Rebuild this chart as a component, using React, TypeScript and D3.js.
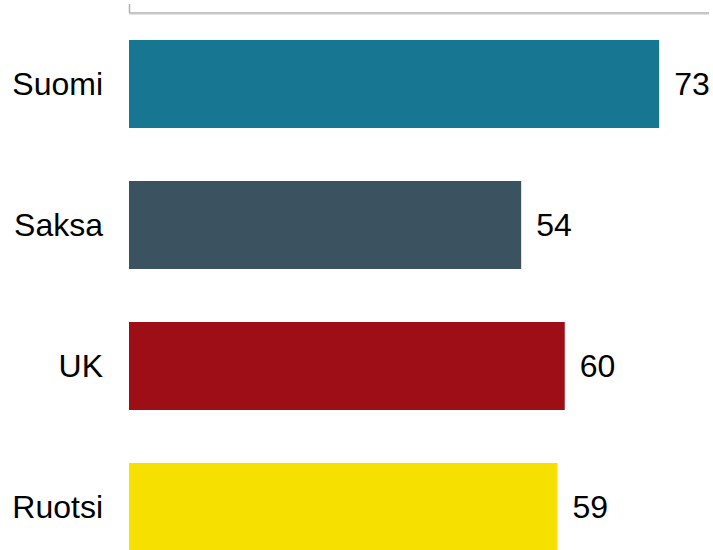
import React from "react";
import * as d3 from "d3";

const categories = ["Suomi", "Saksa", "UK", "Ruotsi"];
const values = [73, 54, 60, 59];
const colors = ["#177691", "#3b5261", "#9d0e16", "#f5e000"];
const xDomain = [0, 80];

const W = 713;
const H = 550;

export default function App() {
  const x = d3.scaleLinear().domain(xDomain).range([129, 710]);
  const y = d3
    .scaleBand<string>()
    .domain(categories)
    .range([13.5, 13.5 + 4 * 141])
    .paddingInner(0.376)
    .paddingOuter(0.188);
  const font = "Liberation Sans, Arial, sans-serif";
  return (
    <svg
      width={W}
      height={H}
      style={{ position: "absolute", left: 0, top: 0, background: "#fff" }}
    >
      <g>
        <line x1={x(0) + 0.5} x2={x(0) + 0.5} y1={4} y2={13} stroke="#b0b0b0" strokeWidth={1.5} />
        <line x1={x(0)} x2={709} y1={13} y2={13} stroke="#b0b0b0" strokeWidth={1.5} />
        <line x1={x(0)} x2={709} y1={14.3} y2={14.3} stroke="#dcdcdc" strokeWidth={1} />
      </g>
      {categories.map((c, i) => {
        const yy = y(c)!;
        const bw = y.bandwidth();
        return (
          <g key={c}>
            <rect x={x(0)} y={yy} width={x(values[i]) - x(0)} height={bw} fill={colors[i]} />
            <text
              x={103}
              y={yy + bw / 2}
              dy="0.35em"
              textAnchor="end"
              fontFamily={font}
              fontSize={32}
              fill="#000"
            >
              {c}
            </text>
            <text
              x={x(values[i]) + 15}
              y={yy + bw / 2}
              dy="0.35em"
              textAnchor="start"
              fontFamily={font}
              fontSize={32}
              fill="#000"
            >
              {values[i]}
            </text>
          </g>
        );
      })}
    </svg>
  );
}
